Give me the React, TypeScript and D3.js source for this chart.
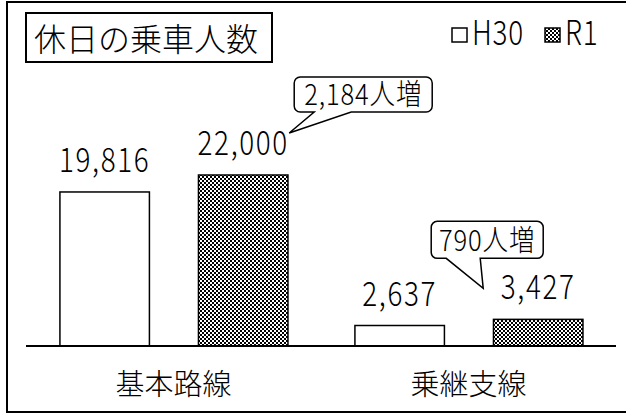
import React from 'react';
import * as d3 from 'd3';

// holiday ridership, H30 vs R1
const categories = ['基本路線', '乗継支線'];
const seriesNames = ['H30', 'R1'];
const h30Values = [19816, 2637];
const r1Values = [22000, 3427];
const increaseLabels = ['2,184人増', '790人増'];

const W = 626;
const H = 414;
const FONT = '"Noto Sans CJK JP", "Noto Sans", sans-serif';

const fmt = d3.format(',');

// rounded box with a speech tail on its bottom edge
const calloutPath = (x, y, w, h, r, t0, t1, tx, ty) => {
  const p = d3.path();
  p.moveTo(x + r, y);
  p.lineTo(x + w - r, y);
  p.arcTo(x + w, y, x + w, y + r, r);
  p.lineTo(x + w, y + h - r);
  p.arcTo(x + w, y + h, x + w - r, y + h, r);
  p.lineTo(t1, y + h);
  p.lineTo(tx, ty);
  p.lineTo(t0, y + h);
  p.lineTo(x + r, y + h);
  p.arcTo(x, y + h, x, y + h - r, r);
  p.lineTo(x, y + r);
  p.arcTo(x, y, x + r, y, r);
  p.closePath();
  return p.toString();
};

// tall narrow text, like the gothic face of the original
const Narrow = ({ x, y, size = 34, anchor = 'start', sx = 0.82, spacing = 1, children }) => (
  <text
    transform={`translate(${x},${y}) scale(${sx},1)`}
    textAnchor={anchor}
    fontFamily={FONT}
    fontWeight={300}
    fontSize={size}
    letterSpacing={spacing}
    fill="#000"
  >
    {children}
  </text>
);

const App = () => {
  const baseY = 346;

  //category bands along the baseline
  const x0 = d3.scaleBand().domain(categories).range([26, 616]).padding(0);
  const bw = x0.bandwidth();
  const x1 = d3
    .scaleBand()
    .domain(seriesNames)
    .range([bw * 0.115, bw * 0.888])
    .paddingInner(0.354);

  const y = d3.scaleLinear().domain([0, 22000]).range([baseY, 175]);

  const rows = categories.map((c, i) => ({
    cat: c,
    vals: [
      { key: 'H30', v: h30Values[i] },
      { key: 'R1', v: r1Values[i] }
    ]
  }));

  const labelX = (cat, key) => x0(cat) + x1(key) + x1.bandwidth() / 2;

  // callout 1: to the right of the R1 label of the first group
  const c1x = labelX(categories[0], 'R1') + 46;
  const c1y = y(r1Values[0]) - 42;
  // callout 2: to the left of the R1 label of the second group
  const c2x = labelX(categories[1], 'R1') - 55;
  const c2y = y(r1Values[1]) - 31;

  return (
    <div style={{ position: 'fixed', left: 0, top: 0 }}>
      <svg width={W} height={H} viewBox={`0 0 ${W} ${H}`} style={{ display: 'block', background: '#fff' }}>
        <defs>
          <pattern id="checker" width="4" height="4" patternUnits="userSpaceOnUse">
            <rect width="4" height="4" fill="#fff" />
            <rect width="2" height="2" fill="#000" />
            <rect x="2" y="2" width="2" height="2" fill="#000" />
          </pattern>
        </defs>

        {/* outer frame */}
        <rect x={7} y={2} width={W} height={410} fill="#fff" stroke="#000" strokeWidth={2} />

        {/* title */}
        <rect x={26} y={13} width={246} height={49} fill="#fff" stroke="#000" strokeWidth={2} />
        <text x={34} y={51} fontFamily={FONT} fontWeight={300} fontSize={32} fill="#000">
          休日の乗車人数
        </text>

        {/* legend */}
        <rect x={452} y={28} width={15} height={14} fill="#fff" stroke="#000" strokeWidth={1.5} />
        <Narrow x={472} y={45}>{seriesNames[0]}</Narrow>
        <rect x={545} y={28} width={15} height={14} fill="url(#checker)" stroke="#000" strokeWidth={1.5} />
        <Narrow x={565} y={45}>{seriesNames[1]}</Narrow>

        {/* bars */}
        {rows.map((r) => (
          <g key={r.cat} transform={`translate(${x0(r.cat)},0)`}>
            {r.vals.map((d) => (
              <rect
                key={d.key}
                x={x1(d.key)}
                y={y(d.v)}
                width={x1.bandwidth()}
                height={baseY - y(d.v)}
                fill={d.key === 'R1' ? 'url(#checker)' : '#fff'}
                stroke="#000"
                strokeWidth={1.5}
              />
            ))}
            {r.vals.map((d) => (
              <Narrow
                key={'t' + d.key}
                x={x1(d.key) + x1.bandwidth() / 2}
                y={y(d.v) - 20}
                anchor="middle"
                spacing={2}
              >
                {fmt(d.v)}
              </Narrow>
            ))}
          </g>
        ))}

        {/* baseline */}
        <line x1={26} x2={616} y1={baseY} y2={baseY} stroke="#000" strokeWidth={2} />

        {/* category labels */}
        {categories.map((c) => (
          <text
            key={c}
            x={x0(c) + bw / 2}
            y={395}
            textAnchor="middle"
            fontFamily={FONT}
            fontWeight={300}
            fontSize={29}
            fill="#000"
          >
            {c}
          </text>
        ))}

        {/* callouts */}
        <path
          d={calloutPath(c1x + 5, c1y - 56, 138, 35, 6, c1x + 25, c1x + 62, c1x, c1y)}
          fill="#fff"
          stroke="#000"
          strokeWidth={1.5}
        />
        <Narrow x={c1x + 74} y={c1y - 28} anchor="middle" size={29} sx={0.88}>
          {increaseLabels[0]}
        </Narrow>
        <path
          d={calloutPath(c2x - 52, c2y - 67, 112, 37, 6, c2x - 37, c2x - 3, c2x, c2y)}
          fill="#fff"
          stroke="#000"
          strokeWidth={1.5}
        />
        <Narrow x={c2x + 4} y={c2y - 37} anchor="middle" size={29} sx={0.88}>
          {increaseLabels[1]}
        </Narrow>
      </svg>
    </div>
  );
};

export default App;
